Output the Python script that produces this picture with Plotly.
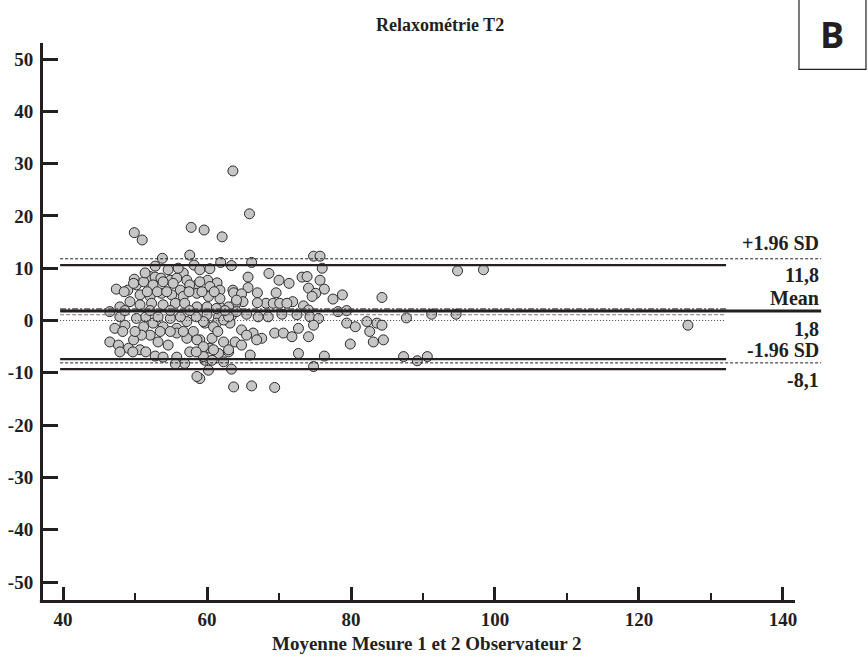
import plotly.graph_objects as go

# Bland-Altman: moyenne des deux mesures (x) et difference (y)
moyenne = [
    63.6, 49.9, 51.0, 57.8, 59.6, 62.1, 65.9, 53.8, 57.6, 52.8,
    58.2, 61.9, 63.4, 60.4, 59.0, 56.7, 49.9, 52.1, 52.8, 53.6,
    54.9, 55.8, 57.2, 47.4, 49.0, 50.2, 60.1, 61.4, 63.6, 58.6,
    66.2, 74.8, 75.7, 76.0, 68.6, 70.0, 71.4, 73.2, 73.9, 75.7,
    65.7, 65.7, 74.1, 76.3, 75.1, 77.5, 78.8, 84.3, 63.7, 64.8,
    67.0, 69.6, 71.9, 74.6, 68.2, 69.2, 70.1, 71.1, 67.0, 65.0,
    64.0, 61.8, 60.0, 73.4, 74.1, 78.2, 79.4, 60.0, 61.6, 63.4,
    65.5, 67.1, 68.5, 70.4, 72.5, 74.3, 75.5, 79.4, 80.6, 82.2,
    83.6, 84.3, 82.6, 83.1, 84.5, 79.9, 59.7, 61.3, 63.2, 64.8,
    66.4, 67.6, 69.4, 70.6, 71.8, 72.7, 74.1, 74.8, 59.0, 60.7,
    62.3, 63.9, 65.5, 64.8, 66.9, 60.4, 61.6, 63.0, 66.0, 72.7,
    76.3, 59.7, 62.3, 74.8, 60.2, 63.4, 59.0, 63.7, 66.2, 69.4,
    94.8, 98.4, 87.7, 91.2, 94.6, 126.8, 87.3, 89.2, 90.6,
    49.8, 51.2, 52.5, 53.9, 55.3, 56.3, 57.6, 59.0, 60.4, 61.8,
    64.1, 50.7, 52.1, 53.7, 55.1, 56.7, 58.6, 60.2, 61.8,
    46.5, 47.9, 49.3, 50.7, 52.3, 53.9, 55.6, 56.9, 58.6, 61.3,
    63.0, 64.1, 47.2, 48.6, 50.2, 51.2, 52.5, 53.9, 54.9, 55.8,
    57.2, 58.1, 59.5, 60.9, 62.3, 46.5, 47.7, 49.1, 50.7, 52.1,
    50.9, 49.8, 53.2, 54.6, 55.8, 57.2, 58.6, 59.5, 63.0, 60.9,
    52.8, 53.9, 55.8, 56.9, 55.6, 59.5, 60.7, 58.6,
    47.9, 51.5, 53.2, 56.3, 58.5, 63.0, 48.3, 50.0, 53.5, 54.9,
    56.7, 61.5, 48.5, 51.7, 53.1, 54.4, 57.5, 59.3, 61.0, 51.4,
    54.6, 56.0, 47.9, 49.7, 51.5, 57.6, 58.5, 48.6, 52.1, 54.9,
    57.6, 62.5,
]
difference = [
    28.6, 16.8, 15.4, 17.8, 17.3, 16.0, 20.4, 11.9, 12.5, 10.4,
    10.6, 11.1, 10.5, 9.9, 9.7, 9.1, 7.9, 8.4, 8.3, 8.1,
    7.7, 8.1, 7.7, 6.0, 5.8, 6.8, 7.7, 7.2, 5.8, 6.8,
    11.1, 12.3, 12.3, 10.0, 9.0, 7.7, 7.1, 8.3, 8.4, 7.7,
    8.3, 6.3, 6.2, 6.0, 5.2, 4.1, 4.9, 4.4, 5.3, 5.1,
    5.3, 5.3, 3.6, 4.6, 3.3, 3.3, 3.3, 3.3, 3.4, 3.6,
    3.3, 2.6, 2.6, 2.8, 2.0, 1.7, 1.9, 1.1, 0.7, 0.9,
    1.2, 0.7, 0.7, 1.2, 1.1, 0.7, 0.4, -0.5, -1.2, -0.2,
    -0.5, -0.9, -2.1, -4.1, -3.7, -4.5, -0.5, -0.5, -0.5, -1.8,
    -2.4, -3.4, -2.4, -2.4, -3.1, -1.5, -3.1, -0.9, -3.7, -3.4,
    -4.1, -4.1, -2.8, -4.7, -3.7, -5.3, -6.3, -6.0, -6.6, -6.3,
    -6.8, -7.6, -7.9, -8.8, -9.5, -9.3, -11.1, -12.7, -12.5, -12.8,
    9.5, 9.7, 0.5, 1.2, 1.2, -0.9, -6.9, -7.7, -6.9,
    7.1, 7.4, 6.8, 7.4, 7.1, 5.8, 6.8, 7.4, 6.5, 5.8,
    3.9, 4.9, 4.6, 5.2, 4.9, 4.6, 5.2, 4.6, 4.2,
    1.7, 2.6, 3.6, 3.0, 3.3, 3.0, 3.3, 3.3, 2.6, 2.3,
    2.6, 1.7, -1.5, -0.9, 0.4, -1.2, -0.5, -1.2, 0.4, -1.5,
    -0.2, -2.1, -0.2, -1.2, 0.1, -4.1, -4.7, -5.3, -5.6, -2.8,
    -2.8, -3.7, -4.1, -4.7, -2.4, -3.4, -3.7, -5.0, -5.6, -5.6,
    -6.8, -7.0, -7.0, -8.2, -8.3, -6.9, -7.6, -10.7,
    0.7, 0.7, 0.7, 0.7, 0.7, 0.7, -2.1, -2.1, -2.1, -2.1,
    -2.1, -2.1, 5.5, 5.5, 5.5, 5.5, 5.5, 5.5, 5.5, 9.1,
    9.7, 10.0, -6.0, -6.0, -6.0, -6.0, -6.0, 1.9, 1.9, 1.9,
    1.9, 1.9,
]

# limites d'agreement (lignes longues) et intervalles (lignes courtes)
moyenne_diff = 1.8
limite_haute = 11.8
limite_basse = -8.1
ic_haute = 10.6
ic_moy_haut = 2.2
ic_moy_bas = 1.1
ligne_zero = 0.0
ic_basse_haut = -7.4
ic_basse_bas = -9.3

x_ticks = [40, 60, 80, 100, 120, 140]
y_ticks = [-50, -40, -30, -20, -10, 0, 10, 20, 30, 40, 50]
y_labels = ["-50", "-40", "-30", "-20", "-10", "0", "10", "20", "30", "40", "50"]

INK = "#231f20"
SERIF = "Liberation Serif, Times New Roman, serif"

x_debut, x_fin_court, x_fin_long = 39.6, 132.1, 145.3

fig = go.Figure()
fig.add_trace(go.Scatter(
    x=moyenne, y=difference, mode="markers",
    marker=dict(size=10, color="#c6c6c6", line=dict(width=1, color="#2a2a2a")),
    showlegend=False, hoverinfo="x+y",
))

def hline(y, x1, width, dash, color=INK):
    fig.add_shape(type="line", xref="x", yref="y", x0=x_debut, x1=x1, y0=y, y1=y,
                  line=dict(color=color, width=width, dash=dash))

hline(limite_haute, x_fin_long, 1, "3px,2px")
hline(limite_basse, x_fin_long, 1, "3px,2px")
hline(ic_haute, x_fin_court, 2.2, "solid")
hline(ic_basse_haut, x_fin_court, 2.2, "solid")
hline(ic_basse_bas, x_fin_court, 2.2, "solid")
hline(ic_moy_haut, x_fin_court, 1.5, "6px,2px,2px,2px", "#555")
hline(ic_moy_bas, x_fin_court, 1, "4px,2px", "#777")
hline(ligne_zero, x_fin_court, 1, "1px,2px", "#444")
hline(moyenne_diff, x_fin_long, 3, "solid")

# axe x dessine a la main (les lignes longues depassent l'axe)
fig.add_shape(type="line", xref="paper", yref="paper", x0=-0.004, x1=0.9641,
              y0=-0.0027, y1=-0.0027, line=dict(color=INK, width=3))

# cadre "B"
fig.add_shape(type="rect", xref="paper", yref="paper", x0=0.9692, x1=1.0551,
              y0=0.9528, y1=1.085, line=dict(color=INK, width=1.2), fillcolor="white")

lab_font = dict(family=SERIF, size=20, color=INK, weight="bold")
labels = [
    ("+1.96 SD", limite_haute, 16), ("11,8", limite_haute, -16),
    ("Mean", moyenne_diff, 13), ("1,8", moyenne_diff, -18),
    ("-1.96 SD", limite_basse, 13), ("-8,1", limite_basse, -17),
]
for txt, yv, sh in labels:
    fig.add_annotation(x=x_fin_long, y=yv, xref="x", yref="y", text=txt, showarrow=False,
                       xanchor="right", yanchor="middle", yshift=sh, font=lab_font)

fig.add_annotation(x=0.509, y=1.0323, xref="paper", yref="paper", text="Relaxométrie T2",
                   showarrow=False, xanchor="center", yanchor="middle",
                   font=dict(family=SERIF, size=18, color=INK, weight="bold"))
fig.add_annotation(x=0.4917, y=-0.0772, xref="paper", yref="paper",
                   text="Moyenne Mesure 1 et 2 Observateur 2", showarrow=False,
                   xanchor="center", yanchor="middle",
                   font=dict(family=SERIF, size=19, color=INK, weight="bold"))
fig.add_annotation(x=1.0112, y=1.0144, xref="paper", yref="paper", text="B", showarrow=False,
                   xanchor="center", yanchor="middle",
                   font=dict(family="Open Sans, Arial, sans-serif", size=36, color=INK, weight="bold"))

tick_font = dict(family=SERIF, size=19, color=INK, weight="bold")
fig.update_layout(
    width=868, height=659,
    margin=dict(l=43, r=45, t=43, b=59, autoexpand=False),
    paper_bgcolor="white", plot_bgcolor="white",
    xaxis=dict(range=[37.22, 145.56], tickvals=x_ticks, ticks="inside", ticklen=13,
               tickwidth=3, tickcolor=INK, showline=False, showgrid=False, zeroline=False,
               tickfont=tick_font, ticklabelstandoff=6, automargin=False,
               minor=dict(dtick=10, tick0=0, ticks="inside", ticklen=7, tickwidth=2,
                          tickcolor=INK, showgrid=False)),
    yaxis=dict(range=[-53.44, 53.06], tickvals=y_ticks, ticktext=y_labels, ticks="inside",
               ticklen=15, tickwidth=3, tickcolor=INK, showline=True, linewidth=3,
               linecolor=INK, showgrid=False, zeroline=False, tickfont=tick_font,
               ticklabelstandoff=3, automargin=False),
)

# la page a une marge de 8px par defaut : on la retire
fig.write_html("out.html", config={"displayModeBar": False},
               post_script="document.body.style.margin='0';")
